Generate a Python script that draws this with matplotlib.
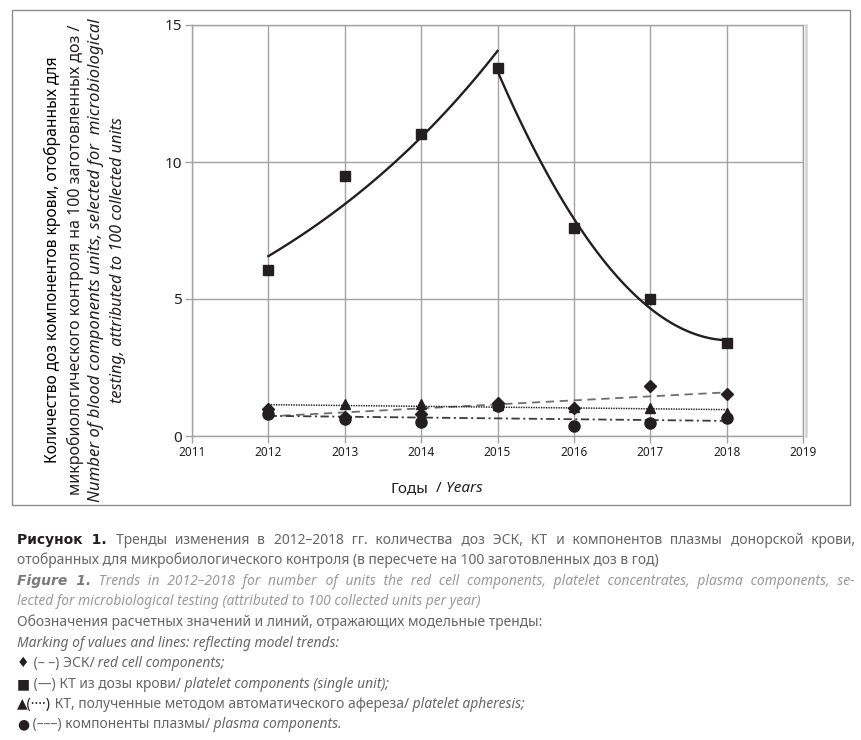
import numpy as np
import matplotlib
matplotlib.use('Agg')
import matplotlib.pyplot as plt
from matplotlib.patches import Rectangle
from matplotlib.lines import Line2D

# ---------------- data ----------------
years = [2012, 2013, 2014, 2015, 2016, 2017, 2018]
platelet_single = [6.06, 9.49, 11.02, 13.43, 7.59, 5.00, 3.38]
red_cell = [1.00, 0.68, 0.80, 1.22, 1.03, 1.83, 1.52]
platelet_apheresis = [1.00, 1.15, 1.18, 1.12, 1.05, 1.02, 0.85]
plasma = [0.80, 0.62, 0.50, 1.08, 0.37, 0.48, 0.65]
x_ticks = [2011, 2012, 2013, 2014, 2015, 2016, 2017, 2018, 2019]
y_ticks = [0, 5, 10, 15]

FAM = ['Noto Sans', 'DejaVu Sans']
BOLDFAM = ['DejaVu Sans']
plt.rcParams['font.family'] = FAM
plt.rcParams['lines.scale_dashes'] = False

W, H = 861, 740
fig = plt.figure(figsize=(W / 100, H / 100), dpi=100)
renderer = fig.canvas.get_renderer()

K = '#231f20'
GRID = '#a3a3a3'

ax = fig.add_axes([192 / W, 1 - 436 / H, (803 - 192) / W, (436 - 25) / H])
ax.set_xlim(2011, 2019)
ax.set_ylim(0, 15)
ax.set_xticks(x_ticks)
ax.set_yticks(y_ticks)
ax.grid(True, color=GRID, lw=1, zorder=0)
ax.set_axisbelow(True)
for s in ax.spines.values():
    s.set_color(GRID)
    s.set_linewidth(1)
ax.tick_params(direction='out', length=5, width=1, color=GRID, labelcolor=K, pad=2)
ax.tick_params(axis='y', labelsize=11)
ax.tick_params(axis='x', labelsize=8.5)

yrs = np.array(years, float)
ps = np.array(platelet_single)

# trend: exponential growth 2012-2015
g = slice(0, 4)
cg = np.polyfit(yrs[g] - 2012, np.log(ps[g]), 1)
xg = np.linspace(2012, 2015, 120)
ax.plot(xg, np.exp(np.polyval(cg, xg - 2012)), color=K, lw=1.7, zorder=2)
# trend: polynomial decline 2015-2018
d = slice(3, 7)
cd = np.polyfit(yrs[d] - 2015, ps[d], 2)
xd = np.linspace(2015, 2018, 120)
ax.plot(xd, np.polyval(cd, xd - 2015), color=K, lw=1.7, zorder=2)

# linear trends for the small series
xl = np.linspace(2012, 2018, 50)
for vals, col, dash, lw in [
    (red_cell, '#6e6e6e', (6, 4), 1.3),
    (platelet_apheresis, K, (1, 0.8), 1.1),
    (plasma, '#3c3c3c', (6, 2.5, 1.5, 2.5), 1.3),
]:
    c = np.polyfit(yrs - 2015, np.array(vals), 1)
    ln, = ax.plot(xl, np.polyval(c, xl - 2015), color=col, lw=lw, zorder=2)
    ln.set_dashes(dash)

ax.plot(years, platelet_single, 's', color=K, ms=7, zorder=4, clip_on=False)
ax.plot(years, red_cell, 'D', color=K, ms=6, zorder=4, clip_on=False)
ax.plot(years, platelet_apheresis, '^', color=K, ms=7.5, zorder=4, clip_on=False)
ax.plot(years, plasma, 'o', color=K, ms=8, zorder=3, clip_on=False)

# light shadow at right edge of plot
fig.add_artist(Line2D([805.5 / W, 805.5 / W], [1 - 436 / H, 1 - 25 / H],
                      color='#d2d2d2', lw=1.8))
# outer chart frame
fig.add_artist(Rectangle((12 / W, 1 - 505 / H), (850 - 12) / W, (505 - 10) / H,
                         transform=fig.transFigure, fill=False,
                         ec='#8c8c8c', lw=1))


def fit_text(x, y, s, target, rotation=0, **kw):
    t = fig.text(x / W, 1 - y / H, s, fontsize=10, rotation=rotation,
                 ha='center', va='center', **kw)
    bb = t.get_window_extent(renderer)
    L = bb.height if rotation else bb.width
    t.set_fontsize(10 * target / L)
    return t


# y-axis title (4 lines)
yc = 260
fit_text(52, yc, 'Количество доз компонентов крови, отобранных для', 405,
         rotation=90, color='#000000', weight='medium')
fit_text(75, yc, 'микробиологического контроля на 100 заготовленных доз /', 467,
         rotation=90, color=K)
fit_text(96, yc, 'Number of blood components units, selected for  microbiological', 482,
         rotation=90, color=K, style='italic')
fit_text(118, yc, 'testing, attributed to 100 collected units', 286,
         rotation=90, color=K, style='italic')


def width_of(s, size, **kw):
    t = fig.text(0, 0, s, fontsize=size, **kw)
    w = t.get_window_extent(renderer).width
    t.remove()
    return w


HAIR = '\u200a'


def put_line(pieces, x0, yb, size, target=None):
    """pieces: (text, colour, weight, style); each piece is one text object,
    chained left to right; justified lines get hair spaces in the gaps."""
    def kws(col, wt, st):
        return dict(color=col, weight=wt, style=st,
                    family=BOLDFAM if wt == 'bold' else FAM)

    texts = [p[0] for p in pieces]
    if target is not None:
        natural = sum(width_of(t, size, **kws(*p[1:])) for t, p in zip(texts, pieces))
        nsp = sum(t.count(' ') for t in texts)
        hw = (width_of('a' + HAIR * 20 + 'a', size) - width_of('aa', size)) / 20
        extra = (target - natural) / max(nsp, 1)
        k = 0
        new = []
        for t in texts:
            out = ''
            for ch in t:
                out += ch
                if ch == ' ':
                    n = int(round((k + 1) * extra / hw)) - int(round(k * extra / hw))
                    out += HAIR * max(n, 0)
                    k += 1
            new.append(out)
        texts = new
    x = x0
    for t, p in zip(texts, pieces):
        a = fig.text(x / W, 1 - yb / H, t, fontsize=size, ha='left',
                     va='baseline', **kws(*p[1:]))
        x += a.get_window_extent(renderer).width


# x-axis title
put_line([('Годы', K, 'medium', 'normal'),
          ('  /', K, 'medium', 'normal'),
          (' Years', K, 'medium', 'italic')], 390, 492, 11)

G1 = '#666666'
G2 = '#7a7a7a'
G3 = '#999999'
X0 = 17
line2 = 'отобранных для микробиологического контроля (в пересчете на 100 заготовленных доз в год)'
CS = 10 * 640 / width_of(line2, 10)

caption = [
    ([('Рисунок 1.', K, 'bold', 'normal'),
      (' Тренды изменения в 2012–2018 гг. количества доз ЭСК, КТ и компонентов плазмы донорской крови,', G1, 'normal', 'normal')], 544, 838),
    ([(line2, G1, 'normal', 'normal')], 564, None),
    ([('Figure 1.', G2, 'bold', 'italic'),
      (' Trends in 2012–2018 for number of units the red cell components, platelet concentrates, plasma components, se-', G3, 'normal', 'italic')], 585, 838),
    ([('lected for microbiological testing (attributed to 100 collected units per year)', G3, 'normal', 'italic')], 605, None),
    ([('Обозначения расчетных значений и линий, отражающих модельные тренды:', G1, 'normal', 'normal')], 626, None),
    ([('Marking of values and lines: reflecting model trends:', G1, 'normal', 'italic')], 647, None),
    ([('♦', K, 'normal', 'normal'), (' (– –) ЭСК/', G1, 'normal', 'normal'),
      (' red cell components;', G1, 'normal', 'italic')], 667, None),
    ([('■', K, 'normal', 'normal'), (' (—) КТ из дозы крови/', G1, 'normal', 'normal'),
      (' platelet components (single unit);', G1, 'normal', 'italic')], 688, None),
    ([('▲(····)', K, 'normal', 'normal'), (' КТ, полученные методом автоматического афереза/', G1, 'normal', 'normal'),
      (' platelet apheresis;', G1, 'normal', 'italic')], 708, None),
    ([('●', K, 'normal', 'normal'), (' (–––) компоненты плазмы/', G1, 'normal', 'normal'),
      (' plasma components.', G1, 'normal', 'italic')], 728, None),
]
for pieces, yb, tgt in caption:
    put_line(pieces, X0, yb, CS, target=tgt)

fig.savefig('out.png', dpi=100)
